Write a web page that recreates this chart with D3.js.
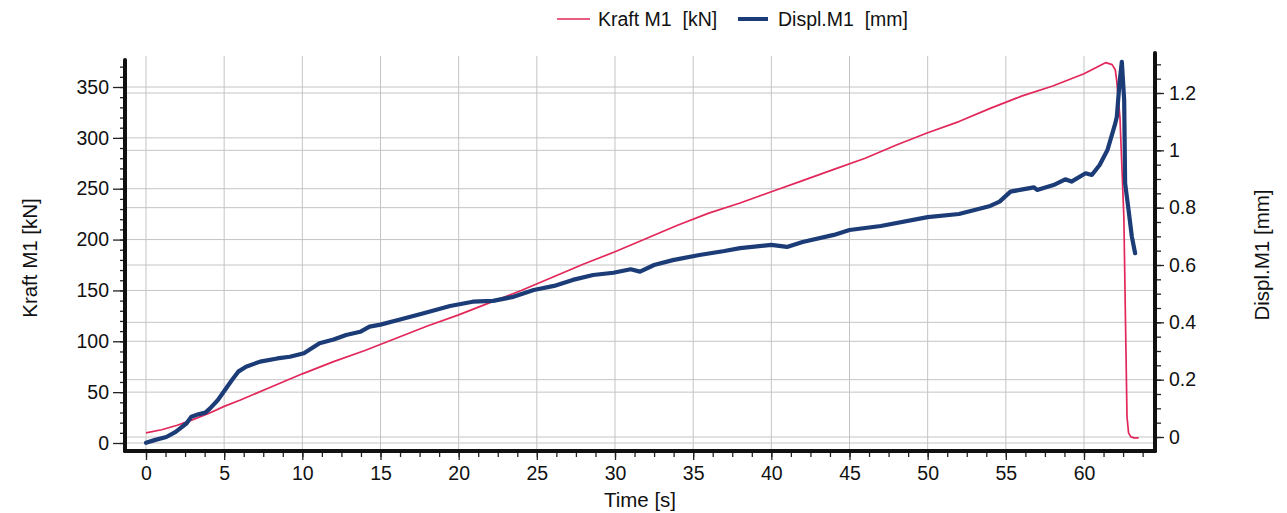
<!DOCTYPE html>
<html>
<head>
<meta charset="utf-8">
<script src="https://cdn.jsdelivr.net/npm/d3@7"></script>
<style>
  html, body { margin: 0; padding: 0; background: #fff; }
  svg { display: block; font-family: "Liberation Sans", Arial, sans-serif; }
</style>
</head>
<body>
<svg id="chart" width="1287" height="513"></svg>
<script>
// Tick labels
const timeTicks = [0, 5, 10, 15, 20, 25, 30, 35, 40, 45, 50, 55, 60];
const forceTicks = [0, 50, 100, 150, 200, 250, 300, 350];
const displTicks = [0, 0.2, 0.4, 0.6, 0.8, 1, 1.2];

// Kraft M1 [kN] over time [s]
const forceTime = [0, 1, 2, 3, 4, 5, 6, 8, 10, 12, 14, 16, 18, 20, 22, 24, 26, 28, 30, 32, 34, 36, 38, 40, 42, 44, 46, 48, 50, 52, 54, 56, 58, 60, 61, 61.4, 61.8, 62.0, 62.1, 62.3, 62.55, 62.65, 62.75, 62.85, 63.0, 63.2, 63.5];
const forceValue = [10, 13, 17.5, 23, 29, 36, 42, 55, 68, 80, 91, 103, 115, 126, 138, 150, 163, 176, 188, 201, 214, 226, 236, 247, 258, 269, 280, 293, 305, 316, 329, 341, 351, 363, 371, 374, 372, 367, 355, 320, 222, 124, 26, 10, 6, 5, 5];

// Displ.M1 [mm] over time [s]
const displTime = [0, 0.6, 1.3, 1.9, 2.6, 2.9, 3.35, 3.8, 4.1, 4.6, 5.05, 5.5, 5.9, 6.4, 7.3, 8.4, 9.2, 10.1, 11.1, 12.0, 12.8, 13.7, 14.3, 15.0, 16.25, 17.7, 19.45, 20.9, 22.2, 23.5, 24.8, 26.1, 27.3, 28.6, 29.9, 31.0, 31.6, 32.5, 33.7, 35.4, 37, 38, 40, 41, 42, 44, 45, 47, 50, 52, 54, 54.6, 55.3, 55.9, 56.8, 57.0, 58.05, 58.8, 59.2, 60.1, 60.5, 61.0, 61.5, 62.0, 62.1, 62.27, 62.42, 62.57, 62.63, 62.85, 63.06, 63.27];
const displValue = [-0.02, -0.01, 0.0, 0.018, 0.048, 0.071, 0.079, 0.085, 0.10, 0.129, 0.164, 0.199, 0.228, 0.245, 0.263, 0.274, 0.28, 0.292, 0.327, 0.34, 0.356, 0.367, 0.385, 0.392, 0.41, 0.431, 0.457, 0.472, 0.475, 0.489, 0.513, 0.527, 0.548, 0.565, 0.573, 0.585, 0.577, 0.60, 0.617, 0.635, 0.649, 0.659, 0.67, 0.663, 0.68, 0.705, 0.722, 0.736, 0.767, 0.778, 0.806, 0.821, 0.856, 0.862, 0.871, 0.862, 0.879, 0.899, 0.891, 0.92, 0.914, 0.949, 1.001, 1.094, 1.117, 1.234, 1.309, 1.175, 0.885, 0.792, 0.699, 0.641];

const RED = "#e2275a";
const BLUE = "#1c3c78";
const GRID = "#c4c4c4";

const svg = d3.select("#chart");

// Frame of the plot
const frame = { left: 125, right: 1155, top: 56, bottom: 451 };

const x = d3.scaleLinear().domain([0, 60]).range([146, 1084]);
const yL = d3.scaleLinear().domain([0, 350]).range([443, 87]);
const yR = d3.scaleLinear().domain([0, 1.2]).range([437, 93]);

// Grid
const grid = svg.append("g").attr("stroke", GRID).attr("stroke-width", 1);
grid.selectAll(".gx").data(timeTicks).join("line")
  .attr("x1", d => x(d)).attr("x2", d => x(d))
  .attr("y1", frame.top).attr("y2", frame.bottom);
grid.selectAll(".gl").data(forceTicks).join("line")
  .attr("x1", frame.left).attr("x2", frame.right)
  .attr("y1", d => yL(d)).attr("y2", d => yL(d));
grid.selectAll(".gr").data(displTicks).join("line")
  .attr("x1", frame.left).attr("x2", frame.right)
  .attr("y1", d => yR(d)).attr("y2", d => yR(d));

// Axes via d3-axis
const fmt = d => String(d);
const minorX = d3.range(0, 64, 1.25);
const minorL = d3.range(0, 380, 10);
const minorR = d3.range(0, 1.34, 0.05);

function styleAxis(g) {
  g.select(".domain").remove();
  g.selectAll(".tick line").attr("stroke", "#222").attr("stroke-width", 1.3);
  g.selectAll(".tick text").attr("fill", "#111").style("font-size", "19.5px")
    .style("font-family", "'Liberation Sans', Arial, sans-serif");
}

// minor ticks
svg.append("g").attr("transform", `translate(0,${frame.bottom})`)
  .call(d3.axisBottom(x).tickValues(minorX).tickSize(6).tickFormat(""))
  .call(styleAxis);
svg.append("g").attr("transform", `translate(${frame.left},0)`)
  .call(d3.axisLeft(yL).tickValues(minorL).tickSize(5).tickFormat(""))
  .call(styleAxis);
svg.append("g").attr("transform", `translate(${frame.right},0)`)
  .call(d3.axisRight(yR).tickValues(minorR).tickSize(6).tickFormat(""))
  .call(styleAxis);

// major ticks + labels
svg.append("g").attr("transform", `translate(0,${frame.bottom})`)
  .call(d3.axisBottom(x).tickValues(timeTicks).tickSize(9).tickPadding(6).tickFormat(fmt))
  .call(styleAxis);
svg.append("g").attr("transform", `translate(${frame.left},0)`)
  .call(d3.axisLeft(yL).tickValues(forceTicks).tickSize(12).tickPadding(4).tickFormat(fmt))
  .call(styleAxis);
svg.append("g").attr("transform", `translate(${frame.right},0)`)
  .call(d3.axisRight(yR).tickValues(displTicks).tickSize(9).tickPadding(5).tickFormat(fmt))
  .call(styleAxis);

// Series
const forceData = forceTime.map((t, i) => [t, forceValue[i]]);
const displData = displTime.map((t, i) => [t, displValue[i]]);

svg.append("path").datum(forceData)
  .attr("fill", "none").attr("stroke", RED).attr("stroke-width", 1.7)
  .attr("stroke-linejoin", "round")
  .attr("d", d3.line().x(d => x(d[0])).y(d => yL(d[1])));

svg.append("path").datum(displData)
  .attr("fill", "none").attr("stroke", BLUE).attr("stroke-width", 4.2)
  .attr("stroke-linejoin", "round").attr("stroke-linecap", "round")
  .attr("d", d3.line().x(d => x(d[0])).y(d => yR(d[1])));

// Heavy axis lines
const axes = svg.append("g").attr("stroke", "#111").attr("stroke-width", 4).attr("stroke-linecap", "round");
axes.append("line").attr("x1", frame.left).attr("x2", frame.left).attr("y1", 60).attr("y2", frame.bottom);
axes.append("line").attr("x1", frame.left).attr("x2", frame.right).attr("y1", frame.bottom).attr("y2", frame.bottom);
axes.append("line").attr("x1", frame.right).attr("x2", frame.right).attr("y1", 53).attr("y2", frame.bottom);

// Axis titles
svg.append("text").attr("x", 640).attr("y", 507).attr("text-anchor", "middle")
  .style("font-size", "20.5px").attr("fill", "#111").text("Time [s]");
svg.append("text").attr("transform", "translate(37,258) rotate(-90)").attr("text-anchor", "middle")
  .style("font-size", "20.5px").attr("fill", "#111").text("Kraft M1 [kN]");
svg.append("text").attr("transform", "translate(1269,255) rotate(-90)").attr("text-anchor", "middle")
  .style("font-size", "20.5px").attr("fill", "#111").text("Displ.M1 [mm]");

// Legend
const legend = svg.append("g");
legend.append("line").attr("x1", 557).attr("x2", 590).attr("y1", 19).attr("y2", 19)
  .attr("stroke", RED).attr("stroke-width", 1.7);
legend.append("text").attr("x", 598).attr("y", 26).style("font-size", "19.5px")
  .attr("fill", "#111").attr("xml:space", "preserve").text("Kraft M1  [kN]");
legend.append("line").attr("x1", 738).attr("x2", 768).attr("y1", 19).attr("y2", 19)
  .attr("stroke", BLUE).attr("stroke-width", 4);
legend.append("text").attr("x", 778).attr("y", 26).style("font-size", "19.5px")
  .attr("fill", "#111").attr("xml:space", "preserve").text("Displ.M1  [mm]");
</script>
</body>
</html>
